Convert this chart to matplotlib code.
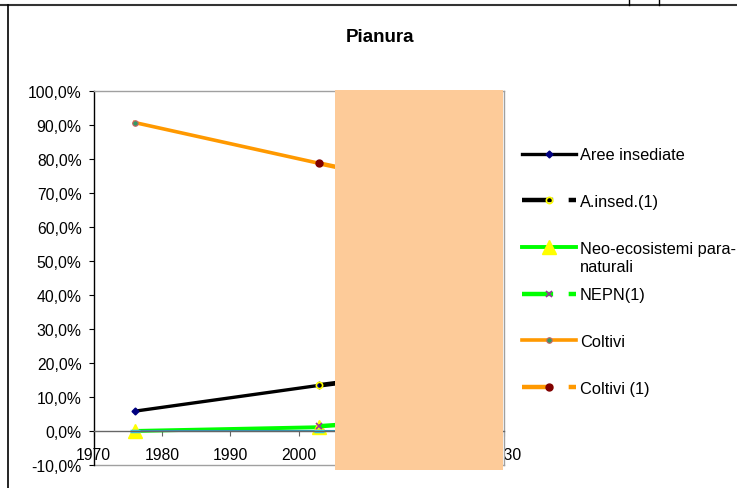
import matplotlib.pyplot as plt
from matplotlib.lines import Line2D
from matplotlib.patches import Rectangle
from matplotlib.ticker import FuncFormatter

plt.rcParams['font.family'] = ['Liberation Sans', 'DejaVu Sans']

# anni rilevati e anni della previsione (1)
anni = [1976, 2003]
anni_prev = [2003, 2015]

# quote di superficie (frazione)
aree_insediate = [0.058, 0.134]
a_insed_1 = [0.134, 0.165]
neo_ecosistemi = [0.0, 0.011]
nepn_1 = [0.014, 0.03]
coltivi = [0.906, 0.786]
coltivi_1 = [0.786, 0.735]
altro = [0.0, 0.0]        # serie azzurra, senza voce in legenda
altro_prev = [0.0, 0.0]

anni_ticks = [1970, 1980, 1990, 2000, 2010, 2020, 2030]
perc_ticks = [-0.1, 0.0, 0.1, 0.2, 0.3, 0.4, 0.5, 0.6, 0.7, 0.8, 0.9, 1.0]

W, H = 737, 489
fig = plt.figure(figsize=(W / 100, H / 100), dpi=100)
ax = fig.add_axes([93.5 / W, (H - 466) / H, (504 - 93.5) / W, (466 - 91.5) / H])

tratteggio = (0, (7, 3.5))

ax.plot(anni, aree_insediate, color='black', lw=2.4, marker='D', ms=3.5,
        mfc='#000080', mec='#000080', solid_capstyle='round')
ax.plot(anni_prev, a_insed_1, color='black', lw=3.4, ls=tratteggio, marker='o',
        ms=4.5, mfc='none', mec='#FFFF00', mew=1.2, markevery=[0])
ax.plot(anni, neo_ecosistemi, color='#00FF00', lw=2.8, marker='^', ms=10,
        mfc='#FFFF00', mec='#FFFF00')
ax.plot(anni_prev, nepn_1, color='#00FF00', lw=3.2, ls=tratteggio, marker='x',
        ms=4, mec='#993399', mew=1.2, markevery=[0])
ax.plot(anni, coltivi, color='#FF9900', lw=2.6, marker='o', ms=4,
        mfc='#339966', mec='#CC6666', mew=0.8)
ax.plot(anni_prev, coltivi_1, color='#FF9900', lw=3.2, ls=tratteggio, marker='o',
        ms=5, mfc='#800000', mec='#800000', markevery=[0])
ax.plot(anni + anni_prev[1:], altro + altro_prev[1:], color='#3399BB', lw=1.5,
        marker='_', ms=7, mec='#33CCEE', mew=2.5, markevery=[0, 1])

ax.set_xlim(1970, 2030)
ax.set_ylim(-0.1, 1.0)
ax.set_xticks(anni_ticks)
ax.set_yticks(perc_ticks)
ax.yaxis.set_major_formatter(FuncFormatter(lambda v, p: f'{v * 100:.1f}%'.replace('.', ',')))

ax.spines['left'].set_color('black')
ax.spines['left'].set_linewidth(1.0)
ax.spines['bottom'].set_position(('data', 0))
ax.spines['bottom'].set_color('#666666')
ax.spines['bottom'].set_linewidth(1.0)
for s in ['top', 'right']:
    ax.spines[s].set_color('#A0A0A0')
    ax.spines[s].set_linewidth(1.0)
ax.axhline(-0.1, color='#A0A0A0', lw=1.0, clip_on=False)

ax.tick_params(axis='y', direction='out', length=3.6, width=0.8, labelsize=11.3, pad=5)
ax.tick_params(axis='x', direction='out', length=3.6, width=0.8, labelsize=11.3, pad=8,
               color='#666666')

fig.text(380 / W, (H - 38) / H, 'Pianura', ha='center', va='center',
         fontsize=13.5, fontweight='bold')

voci = [
    Line2D([], [], color='black', lw=2.4, marker='D', ms=3.5, mfc='#000080', mec='#000080'),
    Line2D([], [], color='black', lw=3.2, ls=tratteggio, marker='o', ms=4.5,
           mfc='none', mec='#FFFF00', mew=1.2),
    Line2D([], [], color='#00FF00', lw=2.8, marker='^', ms=10, mfc='#FFFF00', mec='#FFFF00'),
    Line2D([], [], color='#00FF00', lw=3.2, ls=tratteggio, marker='x', ms=4,
           mec='#993399', mew=1.2),
    Line2D([], [], color='#FF9900', lw=2.6, marker='o', ms=4, mfc='#339966',
           mec='#CC6666', mew=0.8),
    Line2D([], [], color='#FF9900', lw=3.2, ls=tratteggio, marker='o', ms=5,
           mfc='#800000', mec='#800000'),
]
etichette = ['Aree insediate', 'A.insed.(1)', 'Neo-ecosistemi para-',
             'NEPN(1)', 'Coltivi', 'Coltivi (1)']
leg = fig.legend(voci, etichette, loc='center left',
                 bbox_to_anchor=(522 / W, (H - 272.5) / H),
                 frameon=False, fontsize=11.8, handlelength=3.3, handletextpad=0.22,
                 labelspacing=1.93, borderpad=0, borderaxespad=0)

# seconda riga della voce "Neo-ecosistemi para-naturali"
fig.canvas.draw()
bb = leg.texts[2].get_window_extent().transformed(fig.transFigure.inverted())
fig.text(bb.x0, bb.y0 - 3 / H, 'naturali', ha='left', va='top', fontsize=11.8)

# riquadro color pesca sovrapposto
fig.add_artist(Rectangle((335 / W, (H - 471) / H), (503 - 335) / W, (471 - 91) / H,
                         transform=fig.transFigure, facecolor='#FDCB99',
                         edgecolor='none', zorder=10))

# bordi della cella
fig.add_artist(Line2D([0, 1], [(H - 6) / H] * 2, transform=fig.transFigure,
                      color='#333333', lw=1.5))
fig.add_artist(Line2D([8 / W] * 2, [0, (H - 6) / H], transform=fig.transFigure,
                      color='black', lw=1.2))
for xb in [629, 659]:
    fig.add_artist(Line2D([xb / W] * 2, [(H - 6) / H, 1], transform=fig.transFigure,
                          color='black', lw=1.0))

fig.savefig('out.png', dpi=100)
